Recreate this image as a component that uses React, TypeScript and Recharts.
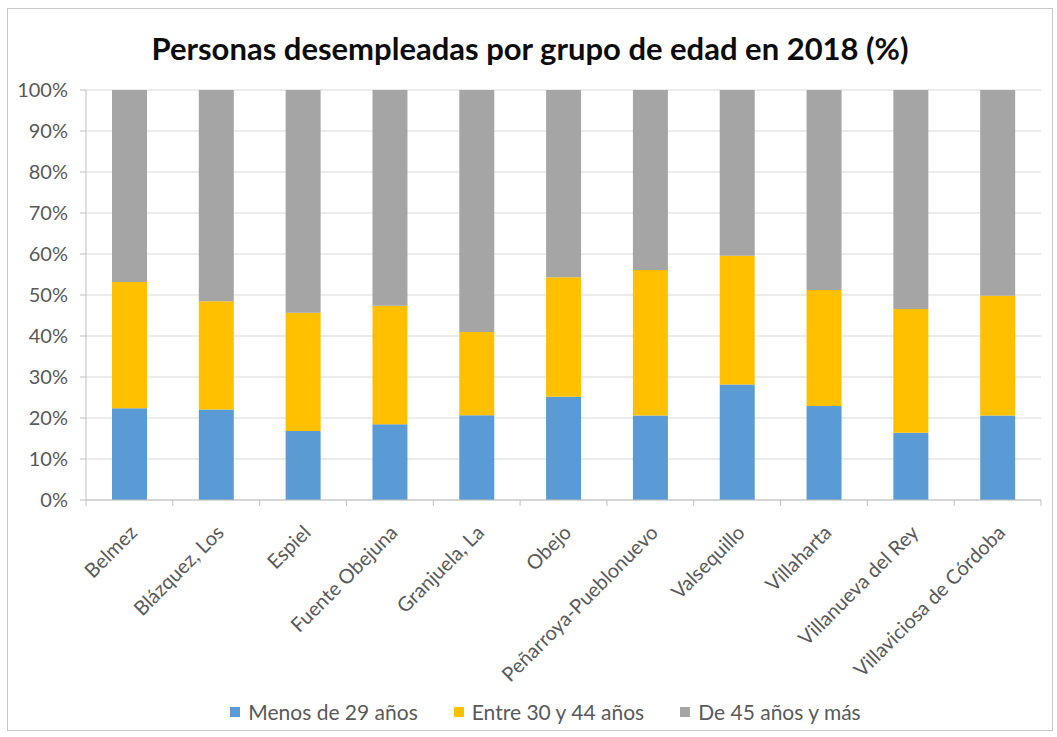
import {
  Bar,
  BarChart,
  CartesianGrid,
  Legend,
  XAxis,
  YAxis,
} from "recharts";

const municipios = [
  "Belmez",
  "Blázquez, Los",
  "Espiel",
  "Fuente Obejuna",
  "Granjuela, La",
  "Obejo",
  "Peñarroya-Pueblonuevo",
  "Valsequillo",
  "Villaharta",
  "Villanueva del Rey",
  "Villaviciosa de Córdoba",
];

const menos29 = [22.4, 22.1, 16.8, 18.5, 20.7, 25.2, 20.6, 28.2, 22.9, 16.4, 20.6];
const entre30y44 = [30.8, 26.4, 28.9, 28.9, 20.3, 29.1, 35.5, 31.4, 28.3, 30.2, 29.2];
const de45 = [46.8, 51.5, 54.3, 52.6, 59.0, 45.7, 43.9, 40.4, 48.8, 53.4, 50.2];

const yTicks = [0, 10, 20, 30, 40, 50, 60, 70, 80, 90, 100];

const series = [
  { key: "menos29", name: "Menos de 29 años", color: "#5B9BD5" },
  { key: "entre30y44", name: "Entre 30 y 44 años", color: "#FFC000" },
  { key: "de45", name: "De 45 años y más", color: "#A5A5A5" },
];

const FONT = "Lato, 'Noto Sans', sans-serif";
const TEXT = "#595959";
const AXIS = "#BFBFBF";

const data = municipios.map((m, i) => ({
  municipio: m,
  menos29: menos29[i],
  entre30y44: entre30y44[i],
  de45: de45[i],
}));

function CategoryTick(props: any) {
  const { x, y, payload, index } = props;
  const half = payload.offset || 0;
  const last = index === municipios.length - 1;
  return (
    <g>
      <line x1={x - half} x2={x - half} y1={y} y2={y + 6} stroke={AXIS} />
      {last && (
        <line x1={x + half} x2={x + half} y1={y} y2={y + 6} stroke={AXIS} />
      )}
      <g transform={`translate(${x + 4},${y + 29})`}>
        <text
          x={0}
          y={0}
          dy="0.35em"
          textAnchor="end"
          transform="rotate(-45)"
          fill={TEXT}
          fontSize={20}
          fontFamily={FONT}
        >
          {payload.value}
        </text>
      </g>
    </g>
  );
}

function ChartLegend() {
  return (
    <div
      style={{
        display: "flex",
        justifyContent: "center",
        gap: 36,
        paddingLeft: 24,
        fontFamily: FONT,
        fontSize: 21,
        color: TEXT,
        lineHeight: "28px",
      }}
    >
      {series.map((s) => (
        <div key={s.key} style={{ display: "flex", alignItems: "center" }}>
          <span
            style={{
              width: 10,
              height: 10,
              background: s.color,
              marginRight: 8,
              display: "inline-block",
            }}
          />
          {s.name}
        </div>
      ))}
    </div>
  );
}

export default function App() {
  return (
    <div
      style={{
        position: "absolute",
        left: 7,
        top: 8,
        width: 1046,
        height: 723,
        border: "1px solid #C8C8C8",
        background: "#fff",
        boxSizing: "border-box",
      }}
    >
      <div
        style={{
          position: "absolute",
          top: 20,
          left: 0,
          right: 0,
          textAlign: "center",
          fontFamily: FONT,
          fontWeight: 700,
          fontSize: 31,
          color: "#0d0d0d",
        }}
      >
        Personas desempleadas por grupo de edad en 2018 (%)
      </div>
      <BarChart
        width={1044}
        height={721}
        data={data}
        margin={{ top: 81, right: 11, bottom: 4, left: 18 }}
        barSize={35}
      >
        <CartesianGrid stroke="#D9D9D9" vertical={false} />
        <XAxis
          dataKey="municipio"
          interval={0}
          height={198}
          tickSize={0}
          tickMargin={0}
          tickLine={false}
          axisLine={{ stroke: AXIS }}
          tick={<CategoryTick />}
        />
        <YAxis
          domain={[0, 100]}
          ticks={yTicks}
          tickFormatter={(v) => `${v}%`}
          width={60}
          tickSize={6}
          tickMargin={12}
          tickLine={{ stroke: AXIS }}
          axisLine={{ stroke: AXIS }}
          tick={{ fill: TEXT, fontSize: 20, fontFamily: FONT }}
        />
        <Legend verticalAlign="bottom" height={28} content={<ChartLegend />} />
        {series.map((s) => (
          <Bar
            key={s.key}
            dataKey={s.key}
            name={s.name}
            stackId="edad"
            fill={s.color}
            isAnimationActive={false}
          />
        ))}
      </BarChart>
    </div>
  );
}
